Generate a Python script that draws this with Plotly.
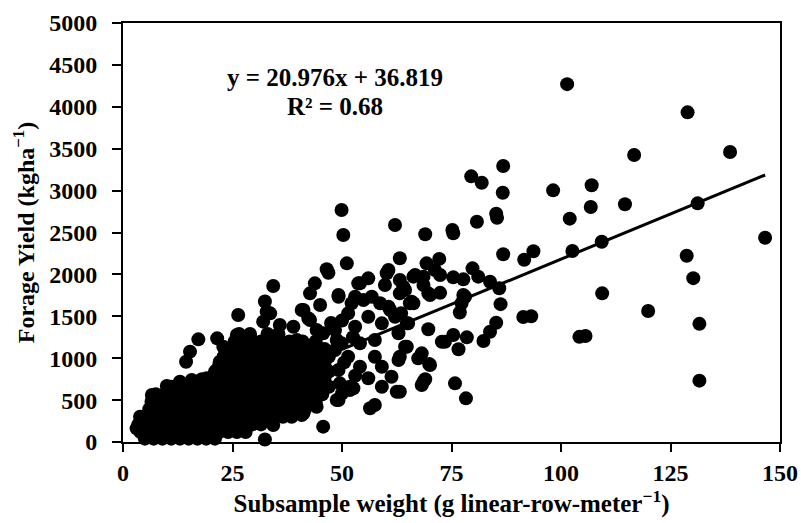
import plotly.graph_objects as go

# ---- Data ----
# Dense core of the cloud: forage yield (kg/ha) -> subsample weights (g) observed at that level
core_rows = {
    40:   [5, 7, 9, 11, 13, 15, 17, 19, 21],
    120:  [4, 6, 8, 10, 12, 14, 16, 18, 20, 22, 24, 26, 28],
    210:  [3.5, 5.5, 7.5, 9.5, 11.5, 13.5, 15.5, 17.5, 19.5, 21.5, 23.5, 25.5, 27.5, 29.5, 31.5],
    300:  [4.5, 6.5, 8.5, 10.5, 12.5, 14.5, 16.5, 18.5, 20.5, 22.5, 24.5, 26.5, 28.5, 30.5, 32.5, 34.5, 36.5, 38.5],
    390:  [6, 8, 10, 12, 14, 16, 18, 20, 22, 24, 26, 28, 30, 32, 34, 36, 38, 40, 41.5],
    480:  [6.5, 8, 10, 12, 14, 16, 18, 20, 22, 24, 26, 28, 30, 32, 34, 36, 38, 40, 42, 44],
    570:  [7.5, 9.5, 11.5, 13.5, 15.5, 17.5, 19.5, 21.5, 23.5, 25.5, 27.5, 29.5, 31.5, 33.5, 35.5, 37.5, 39.5, 41.5, 43.5, 45.5],
    660:  [11, 13, 15, 17, 19, 21, 23, 25, 27, 29, 31, 33, 35, 37, 39, 41, 43, 45, 47],
    750:  [18, 20, 22, 24, 26, 28, 30, 32, 34, 36, 38, 40, 42, 44, 46],
    840:  [21, 23, 25, 27, 29, 31, 33, 35, 37, 39, 41, 43, 45, 47],
    930:  [22, 24, 26, 28, 30, 32, 34, 36, 38, 40, 42, 44, 46],
    1020: [23, 25, 27, 29, 31, 33, 35, 37, 39, 41, 43, 45, 47],
    1110: [24, 26, 28, 30, 32, 34, 36, 38, 40, 42, 44, 46],
    1200: [25.5, 27.5, 29.5, 31.5, 33.5, 35.5, 38, 41, 44],
    1290: [26.5, 29, 33, 35.5],
}

# Individually readable points (subsample weight g, forage yield kg/ha)
outer_x = [101.4, 128.9, 116.7, 138.6, 107.0, 106.8, 114.6, 131.2, 109.3, 146.6,
           128.7, 130.2, 109.4, 119.9, 131.6, 105.6, 104.2, 131.6, 98.2, 102.0,
           86.8, 79.5, 81.9, 86.7, 85.2, 85.4, 80.8, 75.2, 75.4, 69.0,
           102.6, 93.7, 91.6, 86.8, 72.2, 71.2, 72.4, 68.6, 68.6, 75.4,
           77.7, 79.8, 81.1, 83.8, 85.9, 77.7, 77.3, 76.9, 86.2, 69.7,
           72.4, 91.4, 93.2, 69.7, 73.5, 75.4, 76.6, 78.5, 82.3, 83.8,
           85.2, 68.2, 69.9, 69.0, 68.2, 75.8, 78.3, 63.2, 63.2, 64.8,
           64.8, 78.1, 70.1, 66.3, 64.0, 66.3, 69.3, 49.9, 50.3, 51.1,
           62.1, 63.2, 66.7, 60.2, 56.0, 53.7, 63.2, 49.2, 53.0, 56.8,
           59.8, 64.4, 65.9, 60.6, 51.4, 56.0, 62.1, 65.1, 59.1, 53.0,
           48.4, 72.8, 57.5, 62.9, 49.9, 54.1, 64.4, 51.4, 57.5, 62.9,
           67.4, 70.1, 54.1, 59.1, 49.2, 61.3, 56.0, 52.6, 59.1, 68.6,
           62.5, 49.2, 56.4, 57.5, 48.4, 49.5, 52.2, 46.5, 60.6, 46.9,
           43.8, 42.7, 34.3, 49.2, 45.0, 41.2, 42.7, 35.8, 38.9, 33.6,
           54.1, 54.9, 58.7, 61.0, 65.5, 45.7, 48.8, 37.4, 45.7, 41.2,
           44.2, 48.8, 51.8, 26.3, 32.8, 32.0, 26.0, 29.0, 40.8, 42.3,
           39.7, 44.2, 32.4, 17.2, 15.3, 14.4, 21.5, 22.9, 22.1, 13.0,
           10.0, 6.6, 3.9, 3.1, 15.7, 19.1, 21.4, 32.4, 28.2, 27.9,
           34.3, 40.8, 51.8, 38.9, 19.9, 63.2, 63.5, 50.5, 52.5, 50.0,
           53.0, 47.5, 50.0]
outer_y = [4270, 3934, 3425, 3461, 3063, 2804, 2837, 2848, 2390, 2438,
           2222, 1955, 1774, 1563, 1410, 1265, 1255, 732, 3003, 2665,
           3294, 3170, 3094, 2975, 2725, 2675, 2629, 2529, 2490, 2480,
           2280, 2277, 2175, 2240, 2185, 2052, 1993, 1973, 1873, 1965,
           1941, 2072, 1973, 1913, 1834, 1754, 1655, 1545, 1645, 1774,
           1780, 1492, 1500, 1345, 1197, 1277, 1106, 1249, 1205, 1316,
           1423, 1058, 931, 748, 680, 700, 521, 600, 1018, 1137,
           1416, 1734, 1754, 1655, 1853, 1973, 2132, 2768, 2470, 2132,
           2589, 2192, 1993, 2013, 1953, 1893, 1933, 1734, 1734, 1734,
           1873, 1813, 1674, 1614, 1535, 1495, 1495, 1416, 1416, 1376,
           1336, 1197, 1217, 1297, 1177, 1177, 1137, 1018, 1018, 978,
           998, 918, 898, 898, 859, 779, 760, 641, 660, 720,
           600, 501, 402, 441, 1098, 700, 1655, 2061, 2052, 2020,
           1893, 1774, 1862, 1754, 1634, 1575, 1455, 1396, 1376, 1535,
           1893, 1694, 1655, 1575, 1655, 1297, 1217, 1177, 183, 342,
           421, 501, 620, 1515, 1555, 1436, 1277, 1257, 1575, 1476,
           1217, 1336, 30, 1225, 1078, 958, 1237, 1137, 958, 720,
           668, 561, 302, 163, 740, 760, 859, 1676, 1237, 143,
           203, 322, 660, 342, 104, 1774, 1535, 950, 1250, 1450,
           790, 1420, 580]

# Linear trendline as drawn (end points)
trend_x = [3.1, 146.6]
trend_y = [94, 3186]

x_ticks = [0, 25, 50, 75, 100, 125, 150]
y_ticks = [0, 500, 1000, 1500, 2000, 2500, 3000, 3500, 4000, 4500, 5000]

equation_text = "y = 20.976x + 36.819"
r2_text = "R² = 0.68"

# ---- Build traces ----
all_x, all_y = [], []
for yv, xs in core_rows.items():
    for xv in xs:
        all_x.append(xv)
        all_y.append(yv)
all_x += outer_x
all_y += outer_y

FONT = "Liberation Serif, Times New Roman, serif"
FS = 24

fig = go.Figure()
fig.add_trace(go.Scatter(
    x=all_x, y=all_y, mode="markers",
    marker=dict(color="black", size=14, line=dict(width=0)),
    cliponaxis=False, showlegend=False, hoverinfo="skip"))
fig.add_trace(go.Scatter(
    x=trend_x, y=trend_y, mode="lines",
    line=dict(color="black", width=3),
    showlegend=False, hoverinfo="skip"))

fig.add_annotation(x=48.4, y=4355, xref="x", yref="y", text=equation_text,
                   showarrow=False, font=dict(family=FONT, size=25, color="black", weight="bold"))
fig.add_annotation(x=48.4, y=4009, xref="x", yref="y", text=r2_text,
                   showarrow=False, font=dict(family=FONT, size=25, color="black", weight="bold"))

axis_common = dict(showline=True, linecolor="black", linewidth=2, mirror=True,
                   ticks="outside", tickcolor="black", tickwidth=2,
                   showgrid=False, zeroline=False, automargin=False,
                   tickfont=dict(family=FONT, size=FS, color="black", weight="bold"))

fig.update_xaxes(range=[0, 150], tickvals=x_ticks, ticklen=8, ticklabelstandoff=0,
                 title=dict(text="Subsample weight (g linear-row-meter<sup>−1</sup>)",
                            font=dict(family=FONT, size=25, color="black", weight="bold"),
                            standoff=6),
                 **axis_common)
fig.update_yaxes(range=[0, 5000], tickvals=y_ticks, ticklen=9, ticklabelstandoff=10,
                 title=dict(text="Forage Yield (kgha<sup>−1</sup>)",
                            font=dict(family=FONT, size=FS, color="black", weight="bold"),
                            standoff=8),
                 **axis_common)

fig.update_layout(width=801, height=523,
                  margin=dict(l=123, r=21, t=23, b=81),
                  paper_bgcolor="white", plot_bgcolor="white")

# remove the default 8px page margin so the figure fills the window exactly
fig.write_html("out.html", config={"displayModeBar": False},
               post_script="document.body.style.margin='0px';")
